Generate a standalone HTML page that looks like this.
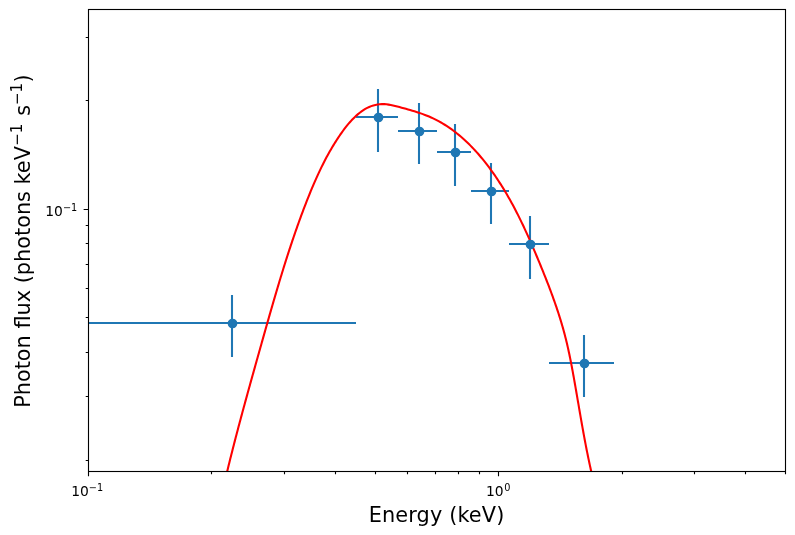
<!DOCTYPE html>
<html lang="en"><head><meta charset="utf-8"><title>Photon flux spectrum</title>
<style>
html,body{margin:0;padding:0;background:#fff;}
body{width:795px;height:535px;overflow:hidden;}
svg{display:block;will-change:transform;}
text{font-family:"DejaVu Sans","Liberation Sans",sans-serif;fill:#000;}
.tk{font-size:13.89px;}
.lb{font-size:20.83px;}
</style></head><body>
<svg width="795" height="535" viewBox="0 0 795 535">
<rect width="795" height="535" fill="#fff"/>
<defs><clipPath id="ax"><rect x="88.5" y="9.5" width="697.0" height="462.0"/></clipPath></defs>

<g clip-path="url(#ax)">
<g stroke="#1f77b4" stroke-width="2.08" fill="none">
<path d="M80,323H356M232,295V357"/>
<path d="M356,117H398M378,89V152"/>
<path d="M398,131H437M419,103V164"/>
<path d="M437,152H471M455,124V186"/>
<path d="M471,191H509M491,163V224"/>
<path d="M509,244H549M530,216V279"/>
<path d="M549,363H614M584,335V397"/>
</g>
<path d="M224.56,482.38 L225.07,480.21 L225.59,478.05 L226.11,475.89 L226.63,473.72 L227.15,471.56 L227.67,469.40 L228.20,467.24 L228.73,465.08 L229.26,462.92 L229.80,460.77 L230.33,458.61 L230.87,456.45 L231.42,454.30 L231.96,452.14 L232.51,449.99 L233.06,447.84 L233.61,445.69 L234.16,443.53 L234.72,441.38 L235.27,439.23 L235.83,437.08 L236.39,434.94 L236.96,432.79 L237.52,430.64 L238.09,428.49 L238.66,426.35 L239.23,424.20 L239.80,422.06 L240.37,419.91 L240.94,417.77 L241.52,415.63 L242.10,413.48 L242.68,411.34 L243.26,409.20 L243.84,407.06 L244.42,404.92 L245.01,402.78 L245.59,400.64 L246.18,398.50 L246.77,396.36 L247.35,394.22 L247.94,392.09 L248.53,389.95 L249.13,387.81 L249.72,385.68 L250.31,383.54 L250.90,381.40 L251.50,379.27 L252.09,377.14 L252.69,375.00 L253.29,372.87 L253.88,370.73 L254.48,368.60 L255.08,366.47 L255.68,364.34 L256.27,362.20 L256.87,360.07 L257.47,357.94 L258.07,355.81 L258.67,353.68 L259.27,351.55 L259.87,349.42 L260.47,347.29 L261.07,345.16 L261.67,343.03 L262.27,340.90 L262.87,338.77 L263.47,336.64 L264.07,334.51 L264.67,332.38 L265.27,330.25 L265.87,328.13 L266.47,326.00 L267.08,323.87 L267.68,321.74 L268.29,319.61 L268.90,317.49 L269.50,315.36 L270.11,313.23 L270.72,311.10 L271.34,308.98 L271.95,306.85 L272.57,304.72 L273.18,302.59 L273.80,300.47 L274.43,298.34 L275.05,296.21 L275.68,294.09 L276.30,291.96 L276.94,289.83 L277.57,287.70 L278.20,285.58 L278.84,283.45 L279.48,281.32 L280.13,279.19 L280.77,277.07 L281.43,274.94 L282.08,272.81 L282.73,270.68 L283.39,268.55 L284.06,266.43 L284.72,264.30 L285.39,262.17 L286.07,260.05 L286.75,257.92 L287.43,255.79 L288.11,253.67 L288.80,251.54 L289.49,249.42 L290.19,247.30 L290.89,245.18 L291.60,243.06 L292.31,240.95 L293.02,238.83 L293.74,236.72 L294.47,234.61 L295.19,232.50 L295.93,230.39 L296.66,228.29 L297.41,226.18 L298.15,224.08 L298.90,221.99 L299.66,219.89 L300.42,217.80 L301.19,215.72 L301.97,213.63 L302.74,211.55 L303.53,209.47 L304.32,207.40 L305.11,205.33 L305.91,203.26 L306.72,201.20 L307.53,199.14 L308.35,197.09 L309.17,195.04 L310.00,193.00 L310.84,190.96 L311.69,188.92 L312.54,186.89 L313.40,184.87 L314.27,182.84 L315.15,180.83 L316.04,178.82 L316.94,176.82 L317.85,174.82 L318.77,172.83 L319.71,170.84 L320.66,168.86 L321.62,166.89 L322.59,164.92 L323.58,162.96 L324.58,161.00 L325.60,159.05 L326.63,157.11 L327.68,155.18 L328.75,153.25 L329.83,151.33 L330.93,149.42 L332.05,147.51 L333.19,145.62 L334.35,143.73 L335.53,141.84 L336.72,139.97 L337.94,138.10 L339.18,136.25 L340.44,134.40 L341.73,132.56 L343.04,130.74 L344.38,128.94 L345.75,127.17 L347.15,125.41 L348.59,123.69 L350.06,122.00 L351.56,120.34 L353.11,118.72 L354.70,117.15 L356.34,115.61 L358.03,114.13 L359.77,112.72 L361.56,111.37 L363.40,110.11 L365.29,108.95 L367.23,107.89 L369.21,106.95 L371.25,106.13 L373.33,105.45 L375.44,104.90 L377.59,104.49 L379.77,104.23 L381.96,104.11 L384.16,104.14 L386.37,104.31 L388.57,104.60 L390.77,104.97 L392.95,105.41 L395.13,105.91 L397.30,106.46 L399.46,107.04 L401.61,107.64 L403.76,108.25 L405.90,108.84 L408.04,109.44 L410.17,110.04 L412.30,110.66 L414.43,111.30 L416.55,111.97 L418.67,112.66 L420.78,113.38 L422.87,114.13 L424.96,114.91 L427.03,115.73 L429.08,116.57 L431.11,117.46 L433.12,118.39 L435.12,119.35 L437.08,120.35 L439.03,121.40 L440.96,122.47 L442.86,123.59 L444.74,124.74 L446.60,125.92 L448.44,127.14 L450.26,128.39 L452.06,129.68 L453.83,130.99 L455.59,132.33 L457.33,133.71 L459.04,135.11 L460.74,136.54 L462.41,137.99 L464.07,139.47 L465.70,140.98 L467.32,142.51 L468.92,144.06 L470.49,145.64 L472.05,147.23 L473.59,148.85 L475.11,150.48 L476.61,152.14 L478.10,153.81 L479.56,155.50 L481.01,157.21 L482.44,158.93 L483.85,160.66 L485.24,162.41 L486.61,164.17 L487.97,165.94 L489.31,167.72 L490.63,169.52 L491.94,171.32 L493.23,173.13 L494.50,174.95 L495.75,176.78 L496.99,178.61 L498.22,180.46 L499.43,182.31 L500.62,184.17 L501.80,186.04 L502.96,187.91 L504.12,189.80 L505.25,191.69 L506.38,193.59 L507.49,195.49 L508.59,197.41 L509.67,199.32 L510.75,201.25 L511.81,203.18 L512.86,205.12 L513.90,207.07 L514.93,209.02 L515.94,210.97 L516.95,212.94 L517.95,214.90 L518.94,216.88 L519.92,218.86 L520.89,220.84 L521.85,222.83 L522.80,224.82 L523.75,226.82 L524.68,228.83 L525.61,230.83 L526.54,232.85 L527.45,234.86 L528.36,236.88 L529.26,238.91 L530.16,240.94 L531.05,242.97 L531.94,245.00 L532.82,247.04 L533.70,249.08 L534.57,251.12 L535.44,253.17 L536.31,255.22 L537.17,257.27 L538.03,259.33 L538.88,261.39 L539.74,263.44 L540.59,265.51 L541.43,267.57 L542.28,269.64 L543.11,271.70 L543.95,273.77 L544.78,275.85 L545.60,277.92 L546.42,280.00 L547.23,282.08 L548.04,284.16 L548.84,286.24 L549.64,288.33 L550.42,290.41 L551.20,292.50 L551.97,294.60 L552.74,296.69 L553.49,298.79 L554.24,300.89 L554.98,302.99 L555.71,305.09 L556.43,307.20 L557.14,309.30 L557.84,311.41 L558.53,313.53 L559.20,315.64 L559.87,317.76 L560.53,319.88 L561.17,322.00 L561.80,324.12 L562.42,326.25 L563.03,328.37 L563.62,330.50 L564.20,332.63 L564.77,334.77 L565.32,336.91 L565.86,339.04 L566.39,341.18 L566.90,343.33 L567.40,345.47 L567.89,347.62 L568.36,349.77 L568.83,351.92 L569.29,354.08 L569.74,356.23 L570.18,358.39 L570.61,360.55 L571.04,362.71 L571.45,364.88 L571.87,367.05 L572.27,369.22 L572.68,371.39 L573.07,373.56 L573.47,375.74 L573.86,377.92 L574.25,380.10 L574.63,382.28 L575.02,384.46 L575.40,386.65 L575.78,388.84 L576.16,391.03 L576.54,393.22 L576.92,395.41 L577.30,397.60 L577.67,399.80 L578.05,401.99 L578.43,404.19 L578.81,406.39 L579.18,408.58 L579.56,410.78 L579.94,412.98 L580.32,415.17 L580.70,417.37 L581.09,419.57 L581.47,421.76 L581.86,423.96 L582.25,426.15 L582.64,428.35 L583.04,430.54 L583.43,432.73 L583.83,434.92 L584.24,437.11 L584.64,439.30 L585.06,441.49 L585.47,443.67 L585.89,445.86 L586.31,448.04 L586.74,450.21 L587.18,452.39 L587.62,454.56 L588.06,456.74 L588.51,458.90 L588.96,461.07 L589.43,463.23 L589.89,465.39 L590.37,467.55 L590.85,469.70 L591.34,471.85 L591.83,473.99 L592.33,476.14 L592.84,478.27 L593.36,480.41 L593.88,482.53" fill="none" stroke="#ff0000" stroke-width="2.08" stroke-linejoin="round"/>
<g fill="#1f77b4" stroke="#1f77b4" stroke-width="1.39">
<circle cx="232.5" cy="323.5" r="4.17"/>
<circle cx="378.5" cy="117.5" r="4.17"/>
<circle cx="419.5" cy="131.5" r="4.17"/>
<circle cx="455.5" cy="152.5" r="4.17"/>
<circle cx="491.5" cy="191.5" r="4.17"/>
<circle cx="530.5" cy="244.5" r="4.17"/>
<circle cx="584.5" cy="363.5" r="4.17"/>
</g>
</g>
<path d="M88.5,471.5v4.86 M498.5,471.5v4.86 M211.5,471.5v2.78 M284.5,471.5v2.78 M335.5,471.5v2.78 M375.5,471.5v2.78 M407.5,471.5v2.78 M435.5,471.5v2.78 M458.5,471.5v2.78 M479.5,471.5v2.78 M622.5,471.5v2.78 M694.5,471.5v2.78 M745.5,471.5v2.78 M785.5,471.5v2.78 M88.5,209.5h-4.86 M88.5,37.5h-2.78 M88.5,100.5h-2.78 M88.5,225.5h-2.78 M88.5,243.5h-2.78 M88.5,264.5h-2.78 M88.5,288.5h-2.78 M88.5,317.5h-2.78 M88.5,352.5h-2.78 M88.5,396.5h-2.78 M88.5,460.5h-2.78" stroke="#000" stroke-width="1.11" fill="none"/>
<rect x="88.5" y="9.5" width="697.0" height="462.0" fill="none" stroke="#000" stroke-width="1.11"/>
<text class="tk" x="71.2" y="495.9">10<tspan font-size="9.72px" dy="-5.3">−1</tspan></text>
<text class="tk" x="485.9" y="495.9">10<tspan font-size="9.72px" dy="-5.3" dx="0.6">0</tspan></text>
<text class="tk" x="45.3" y="215.8">10<tspan font-size="9.72px" dy="-5.3">−1</tspan></text>
<text class="lb" x="368.7" y="521.8" textLength="135.6" lengthAdjust="spacing">Energy (keV)</text>
<text class="lb" transform="translate(30.2,241.1) rotate(-90)" text-anchor="middle">Photon flux (photons keV<tspan font-size="15.0px" dy="-8.5" dx="0.3">−1</tspan><tspan dy="8.5" dx="1.3"> s</tspan><tspan font-size="15.0px" dy="-8.5" dx="-0.2">−1</tspan><tspan dy="8.5" dx="0.4">)</tspan></text>
</svg></body></html>
